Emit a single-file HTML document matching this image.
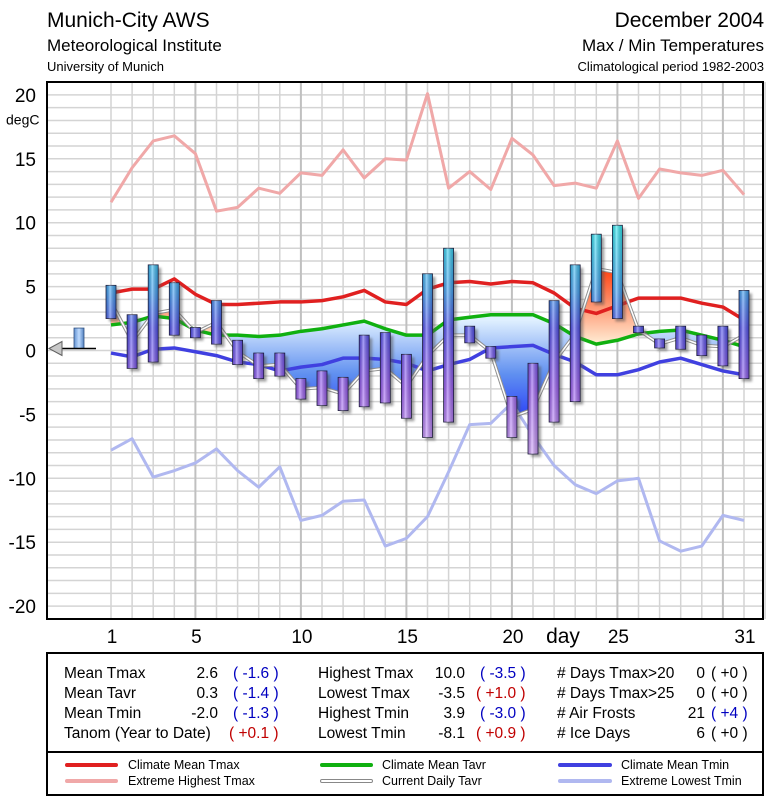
<!DOCTYPE html>
<html><head><meta charset="utf-8">
<style>
html,body{margin:0;padding:0;background:#fff;}
svg{display:block;font-family:"Liberation Sans",Arial,sans-serif;}
</style></head>
<body>
<svg id="chart" width="775" height="800" viewBox="0 0 775 800" xmlns="http://www.w3.org/2000/svg">
<defs>
  <linearGradient id="barGrad" gradientUnits="userSpaceOnUse" x1="0" y1="220" x2="0" y2="460">
    <stop offset="0" stop-color="#30f4f4"/>
    <stop offset="0.3" stop-color="#40a0f4"/>
    <stop offset="0.45" stop-color="#5050f0"/>
    <stop offset="0.7" stop-color="#9a5cf4"/>
    <stop offset="1" stop-color="#d8aaff"/>
  </linearGradient>
  <linearGradient id="barShine" x1="0" y1="0" x2="1" y2="0">
    <stop offset="0" stop-color="#000" stop-opacity="0.15"/>
    <stop offset="0.4" stop-color="#fff" stop-opacity="0.45"/>
    <stop offset="1" stop-color="#000" stop-opacity="0.2"/>
  </linearGradient>
  <linearGradient id="blueFill" gradientUnits="userSpaceOnUse" x1="0" y1="320" x2="0" y2="455">
    <stop offset="0" stop-color="#e0f0ff"/>
    <stop offset="0.4" stop-color="#6090f0"/>
    <stop offset="1" stop-color="#0000ff"/>
  </linearGradient>
  <linearGradient id="orangeFill" gradientUnits="userSpaceOnUse" x1="0" y1="268" x2="0" y2="345">
    <stop offset="0" stop-color="#ff4010"/>
    <stop offset="1" stop-color="#fff0d8"/>
  </linearGradient>
  <linearGradient id="smallBar" x1="0" y1="0" x2="1" y2="0">
    <stop offset="0" stop-color="#6090d0"/>
    <stop offset="0.5" stop-color="#c0dcff"/>
    <stop offset="1" stop-color="#5080c0"/>
  </linearGradient>
  <filter id="blur" x="-50%" y="-20%" width="200%" height="140%"><feGaussianBlur stdDeviation="1.2"/></filter>
  <clipPath id="plotClip"><rect x="47" y="82" width="716" height="537"/></clipPath>
</defs>

<text x="47" y="27" font-size="21">Munich-City AWS</text>
<text x="47" y="51" font-size="17">Meteorological Institute</text>
<text x="47" y="71" font-size="13">University of Munich</text>
<text x="764" y="27" font-size="21" text-anchor="end">December 2004</text>
<text x="764" y="51" font-size="17" text-anchor="end">Max / Min Temperatures</text>
<text x="764" y="71" font-size="13" text-anchor="end">Climatological period 1982-2003</text>

<g id="grid"></g>
<g id="plot" clip-path="url(#plotClip)"></g>
<rect x="47" y="82" width="716" height="537" fill="none" stroke="#000" stroke-width="2"/>
<g id="axes"></g>

<g font-size="15.5">
  <rect x="47" y="653" width="716" height="142" fill="none" stroke="#000" stroke-width="2"/>
  <line x1="47" y1="752" x2="763" y2="752" stroke="#000" stroke-width="2"/>
  <g>
    <text x="64" y="678">Mean Tmax</text><text x="218" y="678" text-anchor="end">2.6</text><text x="233" y="678" fill="#0000c0">( -1.6 )</text>
    <text x="64" y="698">Mean Tavr</text><text x="218" y="698" text-anchor="end">0.3</text><text x="233" y="698" fill="#0000c0">( -1.4 )</text>
    <text x="64" y="718">Mean Tmin</text><text x="218" y="718" text-anchor="end">-2.0</text><text x="233" y="718" fill="#0000c0">( -1.3 )</text>
    <text x="64" y="738">Tanom (Year to Date)</text><text x="229" y="738" fill="#c00000">( +0.1 )</text>
  </g>
  <g>
    <text x="318" y="678">Highest Tmax</text><text x="465" y="678" text-anchor="end">10.0</text><text x="480" y="678" fill="#0000c0">( -3.5 )</text>
    <text x="318" y="698">Lowest Tmax</text><text x="465" y="698" text-anchor="end">-3.5</text><text x="476" y="698" fill="#c00000">( +1.0 )</text>
    <text x="318" y="718">Highest Tmin</text><text x="465" y="718" text-anchor="end">3.9</text><text x="480" y="718" fill="#0000c0">( -3.0 )</text>
    <text x="318" y="738">Lowest Tmin</text><text x="465" y="738" text-anchor="end">-8.1</text><text x="476" y="738" fill="#c00000">( +0.9 )</text>
  </g>
  <g>
    <text x="557" y="678"># Days Tmax&gt;20</text><text x="705" y="678" text-anchor="end">0</text><text x="711" y="678">( +0 )</text>
    <text x="557" y="698"># Days Tmax&gt;25</text><text x="705" y="698" text-anchor="end">0</text><text x="711" y="698">( +0 )</text>
    <text x="557" y="718"># Air Frosts</text><text x="705" y="718" text-anchor="end">21</text><text x="711" y="718" fill="#0000c0">( +4 )</text>
    <text x="557" y="738"># Ice Days</text><text x="705" y="738" text-anchor="end">6</text><text x="711" y="738">( +0 )</text>
  </g>
</g>

<g font-size="12.5">
  <g><line x1="67" y1="765" x2="116" y2="765" stroke="#e02020" stroke-width="4" stroke-linecap="round"/><text x="128" y="769">Climate Mean Tmax</text></g>
  <g><line x1="67" y1="781" x2="116" y2="781" stroke="#f0a8a8" stroke-width="4" stroke-linecap="round"/><text x="128" y="785">Extreme Highest Tmax</text></g>
  <g><line x1="322" y1="765" x2="371" y2="765" stroke="#10b010" stroke-width="4" stroke-linecap="round"/><text x="382" y="769">Climate Mean Tavr</text></g>
  <g><line x1="322" y1="781" x2="371" y2="781" stroke="#888" stroke-width="4" stroke-linecap="round"/><line x1="322" y1="781" x2="371" y2="781" stroke="#fff" stroke-width="2" stroke-linecap="round"/><text x="382" y="785">Current Daily Tavr</text></g>
  <g><line x1="560" y1="765" x2="610" y2="765" stroke="#4040e0" stroke-width="4" stroke-linecap="round"/><text x="621" y="769">Climate Mean Tmin</text></g>
  <g><line x1="560" y1="781" x2="610" y2="781" stroke="#b0b8f0" stroke-width="4" stroke-linecap="round"/><text x="621" y="785">Extreme Lowest Tmin</text></g>
</g>

<script>
const days = [1,2,3,4,5,6,7,8,9,10,11,12,13,14,15,16,17,18,19,20,21,22,23,24,25,26,27,28,29,30,31];
const tmax = [5.1,2.8,6.7,5.3,1.8,3.9,0.8,-0.2,-0.2,-2.2,-1.6,-2.1,1.2,1.4,-0.3,6.0,8.0,1.9,0.3,-3.6,-1.0,3.9,6.7,9.1,9.8,1.9,0.9,1.9,1.2,1.9,4.7];
const tmin = [2.5,-1.4,-0.9,1.2,1.0,0.5,-1.1,-2.2,-2.0,-3.8,-4.3,-4.7,-4.4,-4.1,-5.3,-6.8,-5.6,0.6,-0.6,-6.8,-8.1,-5.6,-4.0,3.8,2.5,1.4,0.2,0.1,-0.4,-1.2,-2.2];
const tavr = [3.8,0.7,2.9,3.2,1.4,2.2,-0.1,-1.2,-1.1,-3.0,-2.9,-3.4,-1.6,-1.4,-2.8,-0.4,1.2,1.2,-0.1,-5.2,-4.6,-0.9,1.3,6.4,6.1,1.6,0.5,1.0,0.4,0.3,1.2];
const climTmax = [4.5,4.8,4.8,5.6,4.4,3.6,3.6,3.7,3.8,3.8,3.9,4.2,4.7,3.8,3.6,4.8,5.3,5.4,5.2,5.4,5.3,4.5,3.3,2.9,3.5,4.1,4.1,4.1,3.7,3.4,2.4];
const climTavr = [2.0,2.2,2.7,2.5,1.6,1.2,1.2,1.1,1.2,1.5,1.7,2.0,2.3,1.7,1.2,1.2,2.4,2.6,2.8,2.8,2.8,2.1,1.1,0.5,0.8,1.3,1.5,1.6,1.2,0.8,0.3];
const climTmin = [-0.2,-0.5,0.1,0.2,-0.1,-0.4,-0.9,-1.1,-1.6,-1.3,-1.1,-0.6,-0.6,-0.7,-1.0,-1.6,-1.1,-0.7,0.2,0.3,0.4,-0.3,-0.9,-1.9,-1.9,-1.5,-0.9,-0.6,-1.1,-1.6,-1.9];
const extMax = [11.6,14.3,16.4,16.8,15.4,10.9,11.2,12.7,12.3,13.9,13.7,15.7,13.5,15.0,14.9,20.1,12.7,14.0,12.6,16.6,15.3,12.9,13.1,12.7,16.4,11.9,14.2,13.9,13.7,14.1,12.2];
const extMin = [-7.8,-6.9,-9.9,-9.4,-8.8,-7.7,-9.4,-10.7,-9.1,-13.3,-12.9,-11.8,-11.7,-15.3,-14.7,-13.0,-9.5,-5.8,-5.7,-4.1,-6.7,-9.0,-10.5,-11.2,-10.2,-10.0,-14.9,-15.7,-15.3,-12.9,-13.3];
const yTicks = [20,15,10,5,0,-5,-10,-15,-20];
const xTicks = [1,5,10,15,20,25,31];
const tanom = 1.6;

const NS = "http://www.w3.org/2000/svg";
const X = d => 111 + (d - 1) * 21.1;
const Y = v => 350.5 - v * 12.78;
function mk(tag, attrs, parent) {
  const e = document.createElementNS(NS, tag);
  for (const k in attrs) e.setAttribute(k, attrs[k]);
  parent.appendChild(e);
  return e;
}
const grid = document.getElementById('grid');
const plot = document.getElementById('plot');
const axes = document.getElementById('axes');

for (let v = -21; v <= 21; v++) {
  const l = mk('line', {x1: 47, x2: 763, y1: Y(v), y2: Y(v), stroke: '#d4d4d4', 'stroke-width': 1.5}, grid);
  
  
}
for (let d = 1; d <= 32; d++) {
  const l = mk('line', {x1: X(d), x2: X(d), y1: 82, y2: 619, stroke: (d % 5 === 0) ? '#c0c0c0' : '#d4d4d4', 'stroke-width': (d % 5 === 0) ? 2 : 1.5}, grid);
  
  
}

function pts(arr) { return arr.map((v, i) => X(days[i]) + ',' + Y(v)).join(' '); }
function line(arr, color, w, name) {
  const p = mk('polyline', {points: pts(arr), fill: 'none', stroke: color, 'stroke-width': w, 'stroke-linejoin': 'round'}, plot);
  
  
  return p;
}

const defs = document.querySelector('defs');
const below = mk('clipPath', {id: 'belowClim'}, defs);
mk('polygon', {points: X(1) + ',' + 700 + ' ' + pts(climTavr) + ' ' + X(31) + ',700'}, below);
const above = mk('clipPath', {id: 'aboveClim'}, defs);
mk('polygon', {points: X(1) + ',0 ' + pts(climTavr) + ' ' + X(31) + ',0'}, above);
const areaPts = pts(tavr) + ' ' + climTavr.map((v, i) => X(days[i]) + ',' + Y(v)).reverse().join(' ');
const fb = mk('polygon', {points: areaPts, fill: 'url(#blueFill)', 'fill-rule': 'evenodd', 'clip-path': 'url(#belowClim)'}, plot);


const fo = mk('polygon', {points: areaPts, fill: 'url(#orangeFill)', 'fill-rule': 'evenodd', 'clip-path': 'url(#aboveClim)'}, plot);



line(extMax, '#f0a8a8', 3, 'extreme-highest-tmax-line');
line(extMin, '#b0b8f0', 3, 'extreme-lowest-tmin-line');
line(climTmax, '#e02020', 3.5, 'climate-mean-tmax-line');
line(climTavr, '#10b010', 3.5, 'climate-mean-tavr-line');
line(climTmin, '#4040e0', 3.5, 'climate-mean-tmin-line');
line(tavr, '#909090', 3.5, 'current-tavr-outline');
line(tavr, '#ffffff', 1.5, 'current-daily-tavr-line');

days.forEach((d, i) => {
  const x = X(d) - 5, y1 = Y(tmax[i]), y2 = Y(tmin[i]);
  const h = Math.max(y2 - y1, 2);
  const s = mk('rect', {x: x + 3, y: y1 + 3, width: 10, height: h, fill: '#555', opacity: 0.55, filter: 'url(#blur)'}, plot);
  
  
  const b = mk('rect', {x: x, y: y1, width: 10, height: h, fill: 'url(#barGrad)', stroke: '#202040', 'stroke-width': 0.8}, plot);
  
  
  const o = mk('rect', {x: x, y: y1, width: 10, height: h, fill: 'url(#barShine)'}, plot);
  
  
});

const sb = mk('rect', {x: 74, y: Y(tanom) - 2, width: 10, height: Y(0) - Y(tanom), fill: 'url(#smallBar)', stroke: '#305080', 'stroke-width': 0.8}, plot);


const al = mk('line', {x1: 60, x2: 96, y1: Y(0) - 2, y2: Y(0) - 2, stroke: '#000', 'stroke-width': 1.5}, plot);


const tri = mk('polygon', {points: '49,' + (Y(0) - 2) + ' 62,' + (Y(0) - 9) + ' 62,' + (Y(0) + 5), fill: '#c8c8c8', stroke: '#606060', 'stroke-width': 1}, plot);



yTicks.forEach(v => {
  const t = mk('text', {x: 36, y: Y(v) + 7, 'font-size': 19, 'text-anchor': 'end'}, axes);
  t.textContent = v;
  
  
});
const yt = mk('text', {x: 6, y: Y(18) + 4, 'font-size': 14}, axes);
yt.textContent = 'degC';


xTicks.forEach(d => {
  const t = mk('text', {x: X(d) + 1, y: 643, 'font-size': 19, 'text-anchor': 'middle'}, axes);
  t.textContent = d;
  
  
});
const xt = mk('text', {x: 563, y: 643, 'font-size': 21, 'text-anchor': 'middle'}, axes);
xt.textContent = 'day';


</script>
</svg>
</body></html>
